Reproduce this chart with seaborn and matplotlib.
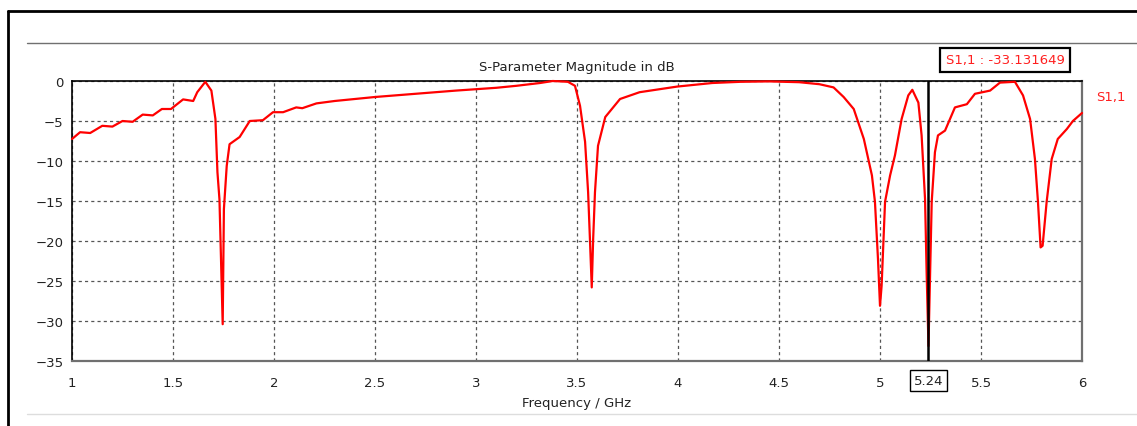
"""S-parameter magnitude plot (S1,1) in the style of a CST result window."""

import matplotlib

matplotlib.use("Agg")
import matplotlib.pyplot as plt  # noqa: E402
import pandas as pd  # noqa: E402
import seaborn as sns  # noqa: E402
from matplotlib.lines import Line2D  # noqa: E402

sns.set_theme(style="white")
plt.rcParams["font.family"] = ["DejaVu Sans"]

freq_ghz = [
    1.00, 1.04, 1.09, 1.15, 1.20, 1.25, 1.30, 1.35, 1.40, 1.445, 1.49, 1.55,
    1.60, 1.62, 1.66, 1.69, 1.71, 1.72, 1.73, 1.746, 1.752, 1.766, 1.78, 1.83,
    1.88, 1.945, 1.995, 2.045, 2.11, 2.14, 2.21, 2.30, 2.50, 2.70, 2.90, 3.10,
    3.20, 3.317, 3.38, 3.455, 3.49, 3.515, 3.54, 3.555, 3.564, 3.573, 3.58,
    3.589, 3.604, 3.64, 3.713, 3.81, 3.995, 4.17, 4.31, 4.45, 4.60, 4.70, 4.77,
    4.82, 4.87, 4.92, 4.96, 4.975, 4.99, 5.00, 5.008, 5.025, 5.05, 5.074,
    5.107, 5.14, 5.16, 5.19, 5.206, 5.223, 5.231, 5.24, 5.256, 5.272, 5.287,
    5.322, 5.371, 5.43, 5.47, 5.545, 5.594, 5.668, 5.708, 5.743, 5.767, 5.782,
    5.795, 5.805, 5.825, 5.85, 5.88, 5.925, 5.955, 6.00,
]
s11_db = [
    -7.25, -6.4, -6.5, -5.6, -5.7, -5.0, -5.1, -4.2, -4.3, -3.5, -3.5, -2.3,
    -2.5, -1.4, -0.1, -1.2, -4.75, -11.4, -14.8, -30.4, -16.0, -10.6, -7.9, -7.0,
    -5.0, -4.9, -3.9, -3.9, -3.3, -3.4, -2.8, -2.5, -2.0, -1.6, -1.2, -0.85,
    -0.6, -0.25, 0.0, -0.1, -0.6, -3.1, -7.6, -13.9, -19.75, -25.8, -19.75,
    -13.9, -8.1, -4.5, -2.25, -1.4, -0.7, -0.25, -0.1, -0.05, -0.15, -0.4, -0.8,
    -2.0, -3.5, -7.25, -11.8, -15.1, -22.25, -28.1, -25.6, -15.1, -11.8, -9.3,
    -4.75, -1.8, -1.1, -2.7, -6.8, -14.75, -24.1, -33.13, -15.1, -8.9, -6.8,
    -6.2, -3.3, -2.9, -1.6, -1.2, -0.2, -0.1, -1.8, -4.75, -9.75, -15.1,
    -20.8, -20.6, -15.1, -9.75, -7.25, -6.0, -5.0, -4.0,
]

x_ticks = [1, 1.5, 2, 2.5, 3, 3.5, 4, 4.5, 5, 5.5, 6]
x_tick_labels = ["1", "1.5", "2", "2.5", "3", "3.5", "4", "4.5", "5", "5.5", "6"]
y_ticks = [0, -5, -10, -15, -20, -25, -30, -35]
marker_freq = 5.24
marker_label = "S1,1 : -33.131649"

df = pd.DataFrame({"freq": freq_ghz, "s11": s11_db})

W, H = 1137, 427
FS = 9.5
fig = plt.figure(figsize=(W / 100, H / 100), dpi=100)
ax = fig.add_axes([72 / W, 1 - 362 / H, (1082 - 72) / W, 280 / H])

sns.lineplot(data=df, x="freq", y="s11", color="#ff0000", linewidth=1.6, ax=ax,
             clip_on=False, zorder=5)

ax.set_xlim(1, 6)
ax.set_ylim(-35, 0)
ax.set_xticks(x_ticks)
ax.set_xticklabels(x_tick_labels)
ax.set_yticks(y_ticks)
ax.tick_params(axis="both", labelsize=FS, colors="#222222", length=3,
               width=1, direction="out", pad=8)
ax.tick_params(axis="y", pad=3)
ax.grid(True, color="#555555", linestyle=(0, (2.5, 2.5)), linewidth=0.9)

for side in ["top", "left"]:
    ax.spines[side].set_color("black")
    ax.spines[side].set_linewidth(1.2)
for side in ["bottom", "right"]:
    ax.spines[side].set_color("#707070")
    ax.spines[side].set_linewidth(1.6)

ax.axvline(marker_freq, color="black", linewidth=1.8, zorder=6)
ax.text(marker_freq, -35 - 1.65, "5.24", ha="center", va="top", fontsize=FS,
        color="#222222",
        bbox=dict(boxstyle="square,pad=0.3", fc="white", ec="black", lw=1),
        zorder=7)

ax.set_xlabel("Frequency / GHz", fontsize=FS, color="#222222", labelpad=5)
ax.set_ylabel("")
ax.set_title("S-Parameter Magnitude in dB", fontsize=FS, color="#222222",
             pad=8)

fig.text(1005 / W, 1 - 61 / H, marker_label, ha="center", va="center",
         fontsize=FS, color="#ff2020",
         bbox=dict(boxstyle="square,pad=0.4", fc="white", ec="black", lw=1.6))
fig.text(1096 / W, 1 - 98 / H, "S1,1", ha="left", va="center", fontsize=FS,
         color="#ff2020")

# window frame lines
fig.add_artist(Line2D([8 / W, 8 / W], [0, 1 - 12 / H], color="black", lw=2))
fig.add_artist(Line2D([8 / W, 1], [1 - 12 / H, 1 - 12 / H], color="black", lw=2))
fig.add_artist(Line2D([27 / W, 1], [1 - 44 / H, 1 - 44 / H], color="#707070", lw=1))
fig.add_artist(Line2D([27 / W, 1], [1 - 415 / H, 1 - 415 / H], color="#dddddd", lw=1))

fig.savefig("out.png", dpi=100)
plt.close(fig)
